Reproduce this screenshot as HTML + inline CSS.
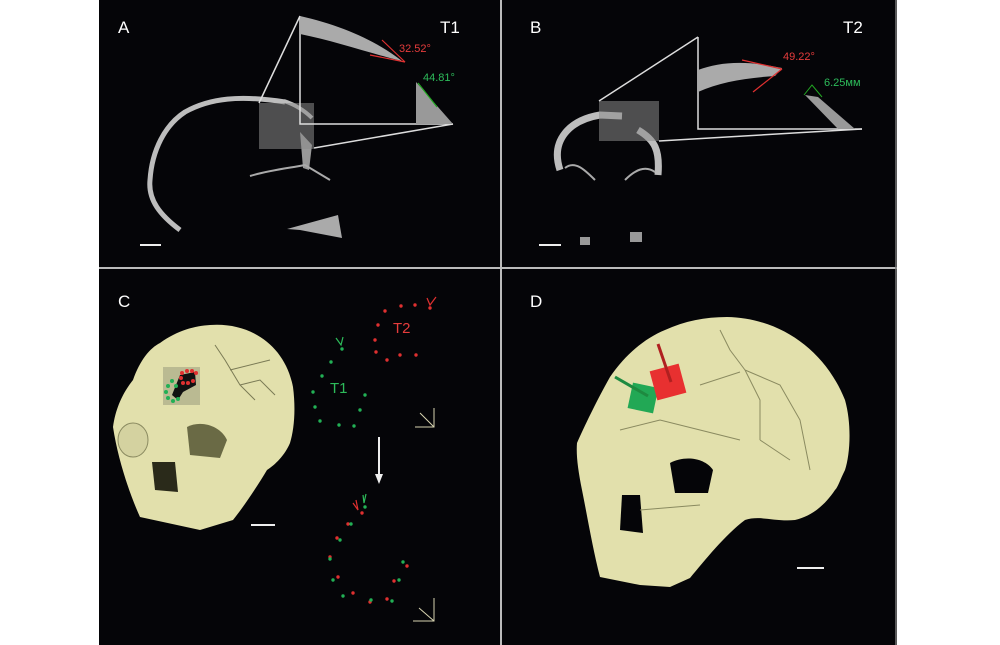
<!DOCTYPE html>
<html><head><meta charset="utf-8"><style>
html,body{margin:0;padding:0;background:#fff;}
svg{display:block;font-family:"Liberation Sans",sans-serif;}
</style></head><body>
<svg width="1000" height="645" viewBox="0 0 1000 645" xmlns="http://www.w3.org/2000/svg">
<rect x="0" y="0" width="1000" height="645" fill="#fff"/>
<rect x="99" y="0" width="798" height="645" fill="#050508"/>
<line x1="501" y1="0" x2="501" y2="645" stroke="#bbb" stroke-width="2"/>
<line x1="99" y1="268" x2="897" y2="268" stroke="#bbb" stroke-width="2"/>
<line x1="896" y1="0" x2="896" y2="645" stroke="#777" stroke-width="1.5"/>

<!-- Panel A -->
<text x="118" y="33" fill="#fff" font-size="17">A</text>
<text x="440" y="33" fill="#fff" font-size="17">T1</text>
<g fill="none" stroke="#bdbdbd" stroke-width="5">
<path d="M180,230 C160,215 148,200 150,180 C152,150 165,125 185,112 C210,98 240,95 285,102"/>
</g>
<path d="M284,101 C296,105 305,111 312,118" stroke="#bdbdbd" stroke-width="4" fill="none"/>
<path d="M300,132 L312,145 L309,170 L303,168 Z" fill="#999"/>
<path d="M250,176 C270,170 290,168 305,165 L330,180" stroke="#aaa" stroke-width="2" fill="none"/>
<path d="M287,229 L338,215 L342,238 L300,230 Z" fill="#aaa"/>
<rect x="259" y="103" width="55" height="46" fill="#8a8a8a" opacity="0.55"/>
<line x1="259" y1="103" x2="300" y2="16" stroke="#ddd" stroke-width="1.5"/>
<line x1="314" y1="148" x2="453" y2="124" stroke="#ddd" stroke-width="1.5"/>
<path d="M300,16 L300,124 L453,124" stroke="#ddd" stroke-width="1.5" fill="none"/>
<path d="M300,16 C340,25 375,40 402,61 L390,58 C360,50 330,40 300,34 Z" fill="#aaa"/>
<path d="M416,82 L453,124 L416,124 Z" fill="#999"/>
<line x1="382" y1="40" x2="405" y2="62" stroke="#e03030" stroke-width="1.2"/>
<line x1="370" y1="55" x2="405" y2="62" stroke="#e03030" stroke-width="1.2"/>
<line x1="418" y1="83" x2="437" y2="107" stroke="#2a2" stroke-width="1.2"/>
<text x="399" y="52" fill="#e63c3c" font-size="11">32.52°</text>
<text x="423" y="81" fill="#2dbb5a" font-size="11">44.81°</text>
<line x1="140" y1="245" x2="161" y2="245" stroke="#eee" stroke-width="2"/>

<!-- Panel B -->
<text x="530" y="33" fill="#fff" font-size="17">B</text>
<text x="843" y="33" fill="#fff" font-size="17">T2</text>
<path d="M560,170 C550,140 570,120 600,115 L622,116" stroke="#bdbdbd" stroke-width="7" fill="none"/>
<path d="M638,130 C655,140 660,150 658,175" stroke="#bdbdbd" stroke-width="7" fill="none"/>
<path d="M565,168 C575,160 585,170 595,180 M625,180 C635,170 645,165 655,172" stroke="#aaa" stroke-width="2" fill="none"/>
<rect x="580" y="237" width="10" height="8" fill="#999"/><rect x="630" y="232" width="12" height="10" fill="#999"/>
<rect x="599" y="101" width="60" height="40" fill="#8a8a8a" opacity="0.55"/>
<line x1="599" y1="101" x2="698" y2="37" stroke="#ddd" stroke-width="1.5"/>
<line x1="659" y1="141" x2="862" y2="129" stroke="#ddd" stroke-width="1.5"/>
<path d="M698,37 L698,129 L862,129" stroke="#ddd" stroke-width="1.5" fill="none"/>
<path d="M698,70 C720,62 745,60 782,68 L775,76 C745,78 720,82 698,92 Z" fill="#aaa"/>
<path d="M805,95 L818,97 L855,129 L838,129 Z" fill="#999"/>
<line x1="742" y1="60" x2="782" y2="69" stroke="#e03030" stroke-width="1.2"/>
<line x1="753" y1="92" x2="782" y2="69" stroke="#e03030" stroke-width="1.2"/>
<path d="M804,95 L812,85 L822,97" stroke="#2a2" stroke-width="1" fill="none"/>
<text x="783" y="60" fill="#e63c3c" font-size="11">49.22°</text>
<text x="824" y="86" fill="#2dbb5a" font-size="11">6.25мм</text>
<line x1="539" y1="245" x2="561" y2="245" stroke="#eee" stroke-width="2"/>

<!-- Panel C -->
<text x="118" y="307" fill="#fff" font-size="17">C</text>
<path d="M210,325 C250,322 285,345 293,387 C296,410 294,430 290,443 C285,455 275,465 267,470 C258,485 245,505 233,520 L200,530 L140,517 C130,495 118,460 113,427 C116,405 125,390 133,380 C140,360 150,348 160,343 C178,330 195,326 210,325 Z" fill="#e2e0ac"/>
<path d="M187,427 C200,420 220,425 227,440 L220,458 L190,455 Z" fill="#6a6a45"/>
<path d="M152,462 L175,462 L178,492 L155,490 Z" fill="#2a2a1a"/>
<ellipse cx="133" cy="440" rx="15" ry="17" fill="#d4d2a0" stroke="#8a8a60" stroke-width="1"/>
<path d="M215,345 L225,360 L240,385 L255,400 M240,385 L260,380 L275,395 M230,370 L270,360" stroke="#7a7a55" stroke-width="1" fill="none"/>
<rect x="163" y="367" width="37" height="38" fill="#a0a080" opacity="0.6"/>
<path d="M180,375 L195,372 L196,385 L183,392 L178,400 L172,395 Z" fill="#111"/>
<g fill="#e03030"><circle cx="182" cy="373" r="2"/><circle cx="187" cy="371" r="2"/><circle cx="192" cy="371" r="2"/><circle cx="196" cy="373" r="2"/><circle cx="181" cy="378" r="2"/><circle cx="183" cy="383" r="2"/><circle cx="188" cy="383" r="2"/><circle cx="193" cy="381" r="2"/></g>
<g fill="#22b055"><circle cx="172" cy="381" r="2"/><circle cx="168" cy="386" r="2"/><circle cx="166" cy="392" r="2"/><circle cx="168" cy="398" r="2"/><circle cx="173" cy="401" r="2"/><circle cx="178" cy="399" r="2"/><circle cx="176" cy="386" r="2"/></g>
<line x1="251" y1="525" x2="275" y2="525" stroke="#eee" stroke-width="2"/>
<text x="393" y="333" fill="#e63c3c" font-size="15">T2</text>
<text x="330" y="393" fill="#2dbb5a" font-size="15">T1</text>
<g fill="#e03030"><circle cx="385" cy="311" r="1.7"/><circle cx="401" cy="306" r="1.7"/><circle cx="415" cy="305" r="1.7"/><circle cx="430" cy="308" r="1.7"/><circle cx="378" cy="325" r="1.7"/><circle cx="375" cy="340" r="1.7"/><circle cx="376" cy="352" r="1.7"/><circle cx="387" cy="360" r="1.7"/><circle cx="400" cy="355" r="1.7"/><circle cx="416" cy="355" r="1.7"/>
<circle cx="362" cy="513" r="1.7"/><circle cx="348" cy="524" r="1.7"/><circle cx="337" cy="538" r="1.7"/><circle cx="330" cy="557" r="1.7"/><circle cx="338" cy="577" r="1.7"/><circle cx="353" cy="593" r="1.7"/><circle cx="370" cy="602" r="1.7"/><circle cx="387" cy="599" r="1.7"/><circle cx="394" cy="581" r="1.7"/><circle cx="407" cy="566" r="1.7"/></g>
<g fill="#22b055"><circle cx="342" cy="349" r="1.7"/><circle cx="331" cy="362" r="1.7"/><circle cx="322" cy="376" r="1.7"/><circle cx="313" cy="392" r="1.7"/><circle cx="315" cy="407" r="1.7"/><circle cx="320" cy="421" r="1.7"/><circle cx="339" cy="425" r="1.7"/><circle cx="354" cy="426" r="1.7"/><circle cx="360" cy="410" r="1.7"/><circle cx="365" cy="395" r="1.7"/>
<circle cx="365" cy="507" r="1.7"/><circle cx="351" cy="524" r="1.7"/><circle cx="340" cy="540" r="1.7"/><circle cx="330" cy="559" r="1.7"/><circle cx="333" cy="580" r="1.7"/><circle cx="343" cy="596" r="1.7"/><circle cx="371" cy="600" r="1.7"/><circle cx="392" cy="601" r="1.7"/><circle cx="399" cy="580" r="1.7"/><circle cx="403" cy="562" r="1.7"/></g>
<path d="M336,338 L341,345 L343,337" stroke="#2dbb5a" stroke-width="1.2" fill="none"/>
<path d="M427,298 L430,305 L436,297" stroke="#e03030" stroke-width="1.2" fill="none"/>
<path d="M363,495 L364,503 L366,494" stroke="#2dbb5a" stroke-width="1.2" fill="none"/>
<path d="M353,503 L358,510 L356,500" stroke="#e03030" stroke-width="1.2" fill="none"/>
<line x1="379" y1="437" x2="379" y2="476" stroke="#eee" stroke-width="2"/>
<path d="M375,474 L383,474 L379,484 Z" fill="#eee"/>
<g stroke="#d8d4b0" stroke-width="1" fill="none"><path d="M434,408 L434,427 L415,427 M434,427 L420,413"/><path d="M434,598 L434,621 L413,621 M434,621 L419,608"/></g>

<!-- Panel D -->
<path d="M727,317 C780,318 825,350 845,400 C852,425 850,455 845,470 C840,480 838,487 835,490 C825,505 812,516 795,520 C775,522 760,515 745,520 C725,535 705,560 690,578 L670,587 L640,585 L600,577 C593,550 588,520 582,490 C578,470 576,455 577,443 C585,425 597,400 610,377 C625,355 645,338 665,330 C685,321 705,317 727,317 Z" fill="#e2e0ac"/>
<text x="530" y="307" fill="#fff" font-size="17">D</text>
<path d="M670,463 C685,455 705,458 713,470 L708,493 L675,493 Z" fill="#050508"/>
<path d="M622,495 L640,495 L643,533 L620,530 Z" fill="#050508"/>
<path d="M720,330 L730,350 L745,370 L760,400 L760,440 M745,370 L780,385 L800,420 L810,470 M700,385 L740,372 M620,430 L660,420 L700,430 L740,440 M640,510 L700,505 M760,440 L790,460" stroke="#8a8a60" stroke-width="1" fill="none"/>
<rect x="630" y="385" width="26" height="26" fill="#22a855" transform="rotate(12 643 398)"/>
<rect x="653" y="367" width="30" height="30" fill="#e83030" transform="rotate(-15 668 382)"/>
<line x1="615" y1="377" x2="648" y2="396" stroke="#1e8a40" stroke-width="3"/>
<line x1="658" y1="344" x2="671" y2="382" stroke="#b02020" stroke-width="3"/>
<line x1="797" y1="568" x2="824" y2="568" stroke="#eee" stroke-width="2"/>
</svg>
</body></html>
